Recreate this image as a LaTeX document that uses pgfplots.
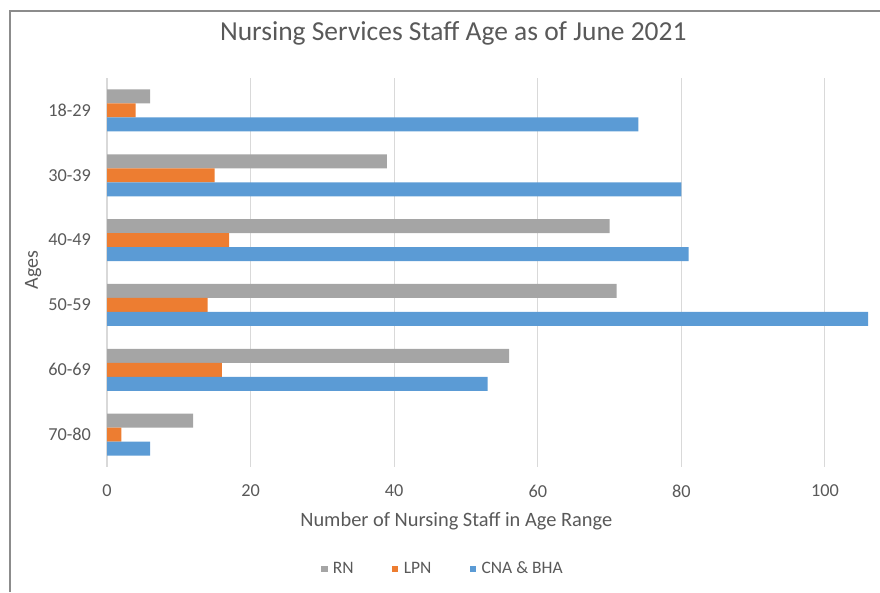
\documentclass[border=0pt]{standalone}
\usepackage{pgfplots}
\pgfplotsset{compat=1.18}
\usepackage{fontspec}
\setmainfont{Carlito}
\definecolor{rn}{HTML}{A5A5A5}
\definecolor{lpn}{HTML}{ED7D31}
\definecolor{cna}{HTML}{5B9BD5}
\definecolor{txt}{HTML}{595959}
\definecolor{gridc}{HTML}{D9D9D9}
\begin{document}
\begin{tikzpicture}[x=0.75pt,y=0.75pt]
\useasboundingbox (0,0) rectangle (880,592);
\draw[color=black!45,line width=1.1pt] (10,0) -- (10,581) -- (880,581);
\begin{axis}[
  at={(80.25pt,93.75pt)}, anchor=south west,
  scale only axis, width=570.75pt, height=291.75pt,
  xbar, bar width=10.5pt,
  y dir=reverse,
  xmin=0, xmax=106, ymin=-0.5, ymax=5.5,
  xtick={0,20,40,60,80,100},
  ytick={0,1,2,3,4,5},
  yticklabels={18-29,30-39,40-49,50-59,60-69,70-80},
  major tick length=0pt,
  axis line style={draw=none},
  xmajorgrids=true, ymajorgrids=false,
  major grid style={draw=gridc, line width=0.8pt},
  /pgf/number format/assume math mode=true,
  tick label style={font=\fontsize{13.7}{16}\selectfont, text=txt},
  xticklabel style={yshift=-10pt},
  yticklabel style={xshift=-8.5pt},
  title={Nursing Services Staff Age as of June 2021},
  title style={at={(axis description cs:0.455,1.095)}, anchor=center, font=\fontsize{20.6}{24}\selectfont, text=txt},
  xlabel={Number of Nursing Staff in Age Range},
  xlabel style={at={(axis description cs:0.459,-0.139)}, anchor=center, font=\fontsize{15.3}{18}\selectfont, text=txt},
  ylabel={Ages},
  ylabel style={at={(axis description cs:-0.097,0.506)}, anchor=center, font=\fontsize{15}{18}\selectfont, text=txt},
  legend columns=3,
  legend style={at={(axis description cs:0.442,-0.262)}, anchor=center, draw=none, fill=none,
    font=\fontsize{13.1}{15}\selectfont, text=txt,
    /tikz/every even column/.append style={column sep=27pt}},
  legend image code/.code={\fill[#1] (0pt,-2.3pt) rectangle (4.6pt,2.3pt); \path (6.6pt,0pt);},
]
\addplot[fill=rn, draw=none, bar shift=10.5pt] coordinates {(6,0) (39,1) (70,2) (71,3) (56,4) (12,5)};
\addplot[fill=lpn, draw=none, bar shift=0pt] coordinates {(4,0) (15,1) (17,2) (14,3) (16,4) (2,5)};
\addplot[fill=cna, draw=none, bar shift=-10.5pt] coordinates {(74,0) (80,1) (81,2) (106,3) (53,4) (6,5)};
\legend{RN, LPN, CNA \& BHA}
\end{axis}
\end{tikzpicture}
\end{document}
